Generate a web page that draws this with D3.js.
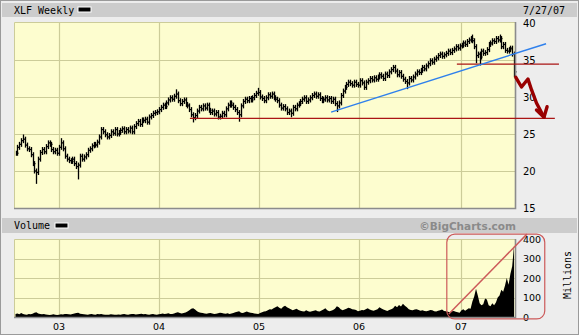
<!DOCTYPE html>
<html><head><meta charset="utf-8">
<script src="https://cdn.jsdelivr.net/npm/d3@7"></script>
<style>body{margin:0;background:#fff}svg{display:block}</style>
</head><body>
<svg id="c" width="579" height="335"></svg>
<script>
// ---------- DATA ----------
const title = "XLF Weekly";
const dateLabel = "7/27/07";
const firstWeek = new Date(2002, 6, 26);
const lastWeek = new Date(2007, 6, 27);

// weekly closes, by year
const close2002 = [22.4,23.2,23.6,24.1,24.3,23.5,23.0,22.9,22.2,21.0,20.0,19.8,21.6,22.5,22.9,22.6,23.3,23.8,23.6,22.9,22.6,22.8,22.4];
const close2003 = [23.2,23.8,23.0,22.0,21.6,21.4,21.3,21.6,21.0,20.6,20.8,22.0,21.6,21.9,22.2,22.8,23.0,23.4,23.6,23.5,23.9,24.6,25.6,25.3,24.9,24.6,24.8,25.3,25.1,25.6,25.0,25.2,25.5,25.7,25.3,25.6,25.4,25.8,25.3,26.0,26.4,26.7,26.3,26.9,26.8,27.0,26.6,27.3,27.5,27.8,27.9,28.0];
const close2004 = [28.3,28.6,28.9,28.7,29.2,29.6,29.9,29.7,30.1,30.4,29.5,29.1,29.4,29.6,29.0,28.8,28.3,27.6,27.2,27.5,28.1,28.6,28.4,28.8,28.5,28.9,28.2,27.9,28.1,27.7,27.9,27.3,27.4,27.8,27.6,28.4,28.9,29.2,28.9,28.6,28.3,27.9,27.6,28.8,29.4,29.7,29.5,29.8,29.6,29.9,30.2,30.5,30.6];
const close2005 = [30.0,29.8,29.5,29.9,30.3,30.1,30.4,29.9,29.7,29.5,28.9,28.5,28.7,28.4,27.9,28.1,27.8,28.6,28.4,28.9,29.1,29.4,29.7,29.9,29.4,29.6,29.9,30.2,30.4,30.1,30.3,29.8,29.5,29.7,29.9,29.6,29.8,29.4,29.7,29.1,28.8,29.2,30.2,30.8,31.3,31.7,32.0,31.8,31.6,32.0,31.7,31.6];
const close2006 = [32.2,31.9,31.3,32.0,32.2,32.5,32.3,32.6,32.4,32.7,33.0,32.8,32.5,33.1,32.9,33.4,33.7,34.0,33.5,33.0,33.3,32.8,32.4,32.1,31.9,32.5,32.3,32.7,33.1,33.4,33.3,33.6,34.0,33.8,34.2,34.5,34.9,34.7,35.1,35.3,35.6,35.8,35.5,35.7,35.9,36.2,36.0,36.3,36.5,36.8,36.6,36.9];
const close2007 = [37.0,37.3,37.1,37.5,37.7,37.9,37.6,36.8,35.6,35.8,35.4,36.2,35.9,36.0,36.4,37.1,37.3,37.6,37.5,37.9,37.7,37.9,36.8,37.1,36.3,36.2,36.4,36.6,35.8,33.4];

// notable weekly extremes (wicks)
const lowWicks = [["2002-10-11",18.6],["2003-03-14",19.2],["2004-05-07",26.9],["2004-10-22",27.0],["2005-04-29",27.6],["2005-10-14",28.3],["2006-06-23",31.4],["2007-03-02",34.9],["2007-03-16",34.6],["2007-07-27",33.0]];
const highWicks = [["2002-08-23",24.6],["2003-01-10",24.1],["2004-03-05",30.7],["2004-12-31",30.9],["2007-02-16",38.1],["2007-06-01",38.1]];

// weekly volume, millions
const vol2002 = [16,18,14,20,15,13,12,15,14,17,22,25,18,15,14,16,13,12,10,12,14,11,10];
const vol2003 = [12,14,13,15,16,14,13,15,18,20,22,17,15,14,13,12,14,16,13,12,15,14,16,13,12,11,12,14,13,12,11,13,12,14,15,13,12,14,16,15,13,14,15,17,14,16,13,12,14,15,13,11];
const vol2004 = [14,16,18,15,17,19,16,15,18,22,25,20,18,21,23,28,35,42,45,38,30,25,22,20,18,17,19,21,18,16,17,19,22,20,18,17,19,16,18,20,24,27,30,22,20,25,28,24,22,20,18,17,15];
const vol2005 = [20,24,28,30,35,40,38,45,50,55,48,42,52,58,50,45,40,35,38,42,36,32,30,28,34,30,27,29,32,35,30,28,33,38,45,35,30,32,36,42,55,50,40,35,38,42,48,45,40,38,36,30];
const vol2006 = [32,36,34,40,45,38,34,32,36,40,50,44,38,34,31,36,40,45,58,50,62,54,68,58,50,40,36,34,38,40,36,32,34,31,29,32,36,34,30,28,32,34,38,31,29,27,25,29,31,27,25,22];
const vol2007 = [35,40,32,38,45,42,80,105,145,110,70,60,65,95,90,60,55,70,60,75,100,110,140,130,160,200,165,220,260,365];

// axes
const priceTicks = [15,20,25,30,35,40];
const volTicks = [0,100,200,300,400];
const volGrid = [100,200,300];
const yearTicks = [2003,2004,2005,2006,2007];

// annotations, in data coordinates [date, value]
const trendLine = [["2005-09-23",27.95],["2007-11-28",37.2]];
const supportLine = [["2004-04-25",27.1],["2008-01-01",27.1]];
const resistLine = [["2006-12-19",34.45],["2008-01-17",34.45]];
const arrowPath = [["2007-08-03",32.66],["2007-08-25",31.35],["2007-09-19",32.43],["2007-10-03",30.95],["2007-10-22",29.19],["2007-11-20",27.26]];
const arrowHead = [["2007-10-22",28.24],["2007-11-20",27.26],["2007-12-02",28.69]];
const volLine = [["2006-11-20",15],["2007-09-15",425]];
const volBox = [["2006-11-13",425],["2007-11-23",-10]];

// ---------- BUILD ----------
const parse = d3.timeParse("%Y-%m-%d");
const dates = d3.timeFriday.range(firstWeek, d3.timeDay.offset(lastWeek, 1));
const closes = [].concat(close2002, close2003, close2004, close2005, close2006, close2007);
const vols = [].concat(vol2002, vol2003, vol2004, vol2005, vol2006, vol2007);
const fmtKey = d3.timeFormat("%Y-%m-%d");
const lowMap = new Map(lowWicks), highMap = new Map(highWicks);
const bars = dates.map((d, i) => ({date: d, close: closes[i], prev: i > 0 ? closes[i-1] : closes[i], vol: vols[i], key: fmtKey(d)}));

const P = {l: 14, r: 515, t: 22, b: 208};
const V = {t: 239, b: 317};

const x = d3.scaleTime()
  .domain([firstWeek, new Date(2003,0,1), new Date(2004,0,1), new Date(2005,0,1), new Date(2006,0,1), new Date(2007,0,1), lastWeek])
  .range([15.5, 58.5, 158.5, 258.5, 358.5, 460.5, 514]);
const y = d3.scaleLinear().domain([15, 40]).range([P.b, 23]);
const yv = d3.scaleLinear().domain([0, 400]).range([V.b, V.t]);

const svg = d3.select("#c");
const mono = "DejaVu Sans Mono, monospace";
const sans = "DejaVu Sans, Verdana, sans-serif";

// background + frame
svg.append("rect").attr("width", 579).attr("height", 335).attr("fill", "#ededed");
svg.append("rect").attr("x", 0.5).attr("y", 0.5).attr("width", 578).attr("height", 334)
  .attr("fill", "none").attr("stroke", "#9a9a9a");
// header bars
svg.append("rect").attr("x", 2).attr("y", 3).attr("width", 575).attr("height", 14).attr("fill", "#cccccc");
svg.append("rect").attr("x", 2).attr("y", 218).attr("width", 575).attr("height", 15).attr("fill", "#cccccc");

svg.append("text").attr("x", 14).attr("y", 14).attr("font-family", mono).attr("font-size", 10).attr("fill", "#000").text(title);
svg.append("rect").attr("x", 78).attr("y", 7).attr("width", 13).attr("height", 5).attr("fill", "#000").attr("stroke", "#fff").attr("stroke-width", 1);
svg.append("text").attr("x", 523).attr("y", 14).attr("font-family", mono).attr("font-size", 10).attr("fill", "#000").text(dateLabel);

svg.append("text").attr("x", 14).attr("y", 229).attr("font-family", mono).attr("font-size", 10).attr("fill", "#000").text("Volume");
svg.append("rect").attr("x", 55).attr("y", 223).attr("width", 13).attr("height", 5).attr("fill", "#000").attr("stroke", "#fff").attr("stroke-width", 1);
svg.append("text").attr("x", 516).attr("y", 229.5).attr("text-anchor", "end").attr("font-family", sans)
  .attr("font-weight", "bold").attr("font-size", 10.5).attr("fill", "#8a8a8a").text("\u00A9BigCharts.com");

// plot backgrounds
const bg = "#fdfdcf", grid = "#cccc99";
svg.append("rect").attr("x", P.l).attr("y", P.t).attr("width", P.r - P.l).attr("height", P.b - P.t).attr("fill", bg);
svg.append("rect").attr("x", P.l).attr("y", V.t).attr("width", P.r - P.l).attr("height", V.b - V.t).attr("fill", bg);

// grids
const gx = d => Math.round(x(new Date(d, 0, 1))) + 0.5;
const gg = svg.append("g").attr("stroke", grid).attr("stroke-width", 1.2);
yearTicks.forEach(yr => {
  gg.append("line").attr("x1", gx(yr)).attr("x2", gx(yr)).attr("y1", P.t).attr("y2", P.b);
  gg.append("line").attr("x1", gx(yr)).attr("x2", gx(yr)).attr("y1", V.t).attr("y2", V.b);
});
priceTicks.filter(v => v > 15 && v < 40).forEach(v => {
  const yy = Math.round(y(v)) + 0.5;
  gg.append("line").attr("x1", P.l).attr("x2", P.r).attr("y1", yy).attr("y2", yy);
});
volGrid.forEach(v => {
  const yy = Math.round(yv(v)) + 0.5;
  gg.append("line").attr("x1", P.l).attr("x2", P.r).attr("y1", yy).attr("y2", yy);
});
// top/left light borders
svg.append("path").attr("d", `M${P.l+0.5},${P.b}V${P.t+0.5}H${P.r}`).attr("fill", "none").attr("stroke", grid);
svg.append("path").attr("d", `M${P.l+0.5},${V.b}V${V.t+0.5}H${P.r}`).attr("fill", "none").attr("stroke", grid);

// volume area
const area = d3.area().x(d => x(d.date)).y0(yv(0)).y1(d => yv(d.vol)).curve(d3.curveLinear);
svg.append("path").datum(bars).attr("d", area).attr("fill", "#000");

// price bars (open = previous close; ends padded to suggest the weekly range)
const gb = svg.append("g").attr("stroke", "#000").attr("stroke-width", 1.3).attr("fill", "none");
bars.forEach(b => {
  let lo = Math.min(b.prev, b.close), hi = Math.max(b.prev, b.close);
  if (lowMap.has(b.key)) lo = Math.min(lo, lowMap.get(b.key));
  if (highMap.has(b.key)) hi = Math.max(hi, highMap.get(b.key));
  const xx = Math.round(x(b.date)) + 0.5;
  gb.append("line").attr("x1", xx).attr("x2", xx).attr("y1", y(hi) - 2.5).attr("y2", y(lo) + 2.5);
  gb.append("line").attr("x1", xx).attr("x2", xx + 2).attr("y1", y(b.close)).attr("y2", y(b.close));
});

// dark borders (bottom/right)
svg.append("path").attr("d", `M${P.l},${P.b+0.5}H${P.r+0.5}V${P.t}`).attr("fill", "none").attr("stroke", "#8c8c8c").attr("stroke-width", 1.6);
svg.append("path").attr("d", `M${P.l},${V.b+0.5}H${P.r+0.5}V${V.t}`).attr("fill", "none").attr("stroke", "#8c8c8c").attr("stroke-width", 1.6);

// axes
const yAx = svg.append("g").attr("transform", `translate(${P.r},0)`)
  .call(d3.axisRight(y).tickValues(priceTicks).tickSize(0).tickPadding(8).tickFormat(d3.format("d")));
yAx.select(".domain").remove();
yAx.selectAll("text").attr("font-family", sans).attr("font-size", 10).attr("fill", "#000");

const vAx = svg.append("g").attr("transform", `translate(${P.r},0)`)
  .call(d3.axisRight(yv).tickValues(volTicks).tickSize(0).tickPadding(8).tickFormat(d3.format("d")));
vAx.select(".domain").remove();
vAx.selectAll("text").attr("font-family", sans).attr("font-size", 9.5).attr("fill", "#000");

const xAx = svg.append("g").attr("transform", `translate(0,${V.b})`)
  .call(d3.axisBottom(x).tickValues(yearTicks.map(yr => new Date(yr, 0, 1))).tickSize(0).tickPadding(6).tickFormat(d3.timeFormat("%y")));
xAx.select(".domain").remove();
xAx.selectAll("text").attr("font-family", sans).attr("font-size", 9.5).attr("fill", "#000");

svg.append("text").attr("transform", "translate(571,275) rotate(-90)").attr("text-anchor", "middle")
  .attr("font-family", mono).attr("font-size", 10).attr("fill", "#000").text("Millions");

// annotations
const pl = d3.line().x(d => x(parse(d[0]))).y(d => y(d[1]));
const vl = d3.line().x(d => x(parse(d[0]))).y(d => yv(d[1]));
svg.append("path").attr("d", pl(supportLine)).attr("stroke", "#aa1515").attr("stroke-width", 1.3).attr("fill", "none");
svg.append("path").attr("d", pl(resistLine)).attr("stroke", "#aa1515").attr("stroke-width", 1.3).attr("fill", "none");
svg.append("path").attr("d", pl(trendLine)).attr("stroke", "#2f80ec").attr("stroke-width", 1.4).attr("fill", "none");
svg.append("path").attr("d", pl(arrowPath)).attr("stroke", "#990000").attr("stroke-width", 3.4).attr("fill", "none")
  .attr("stroke-linejoin", "round").attr("stroke-linecap", "round");
svg.append("path").attr("d", pl(arrowHead)).attr("stroke", "#990000").attr("stroke-width", 3.4).attr("fill", "none")
  .attr("stroke-linejoin", "round").attr("stroke-linecap", "round");

const bx0 = x(parse(volBox[0][0])), bx1 = x(parse(volBox[1][0]));
const by0 = yv(volBox[0][1]), by1 = yv(volBox[1][1]);
svg.append("rect").attr("x", bx0).attr("y", by0).attr("width", bx1 - bx0).attr("height", by1 - by0)
  .attr("rx", 8).attr("fill", "none").attr("stroke", "#cc5a5a").attr("stroke-width", 1.2);
svg.append("path").attr("d", vl(volLine)).attr("stroke", "#cc5a5a").attr("stroke-width", 1.5).attr("fill", "none");
</script>
</body></html>
